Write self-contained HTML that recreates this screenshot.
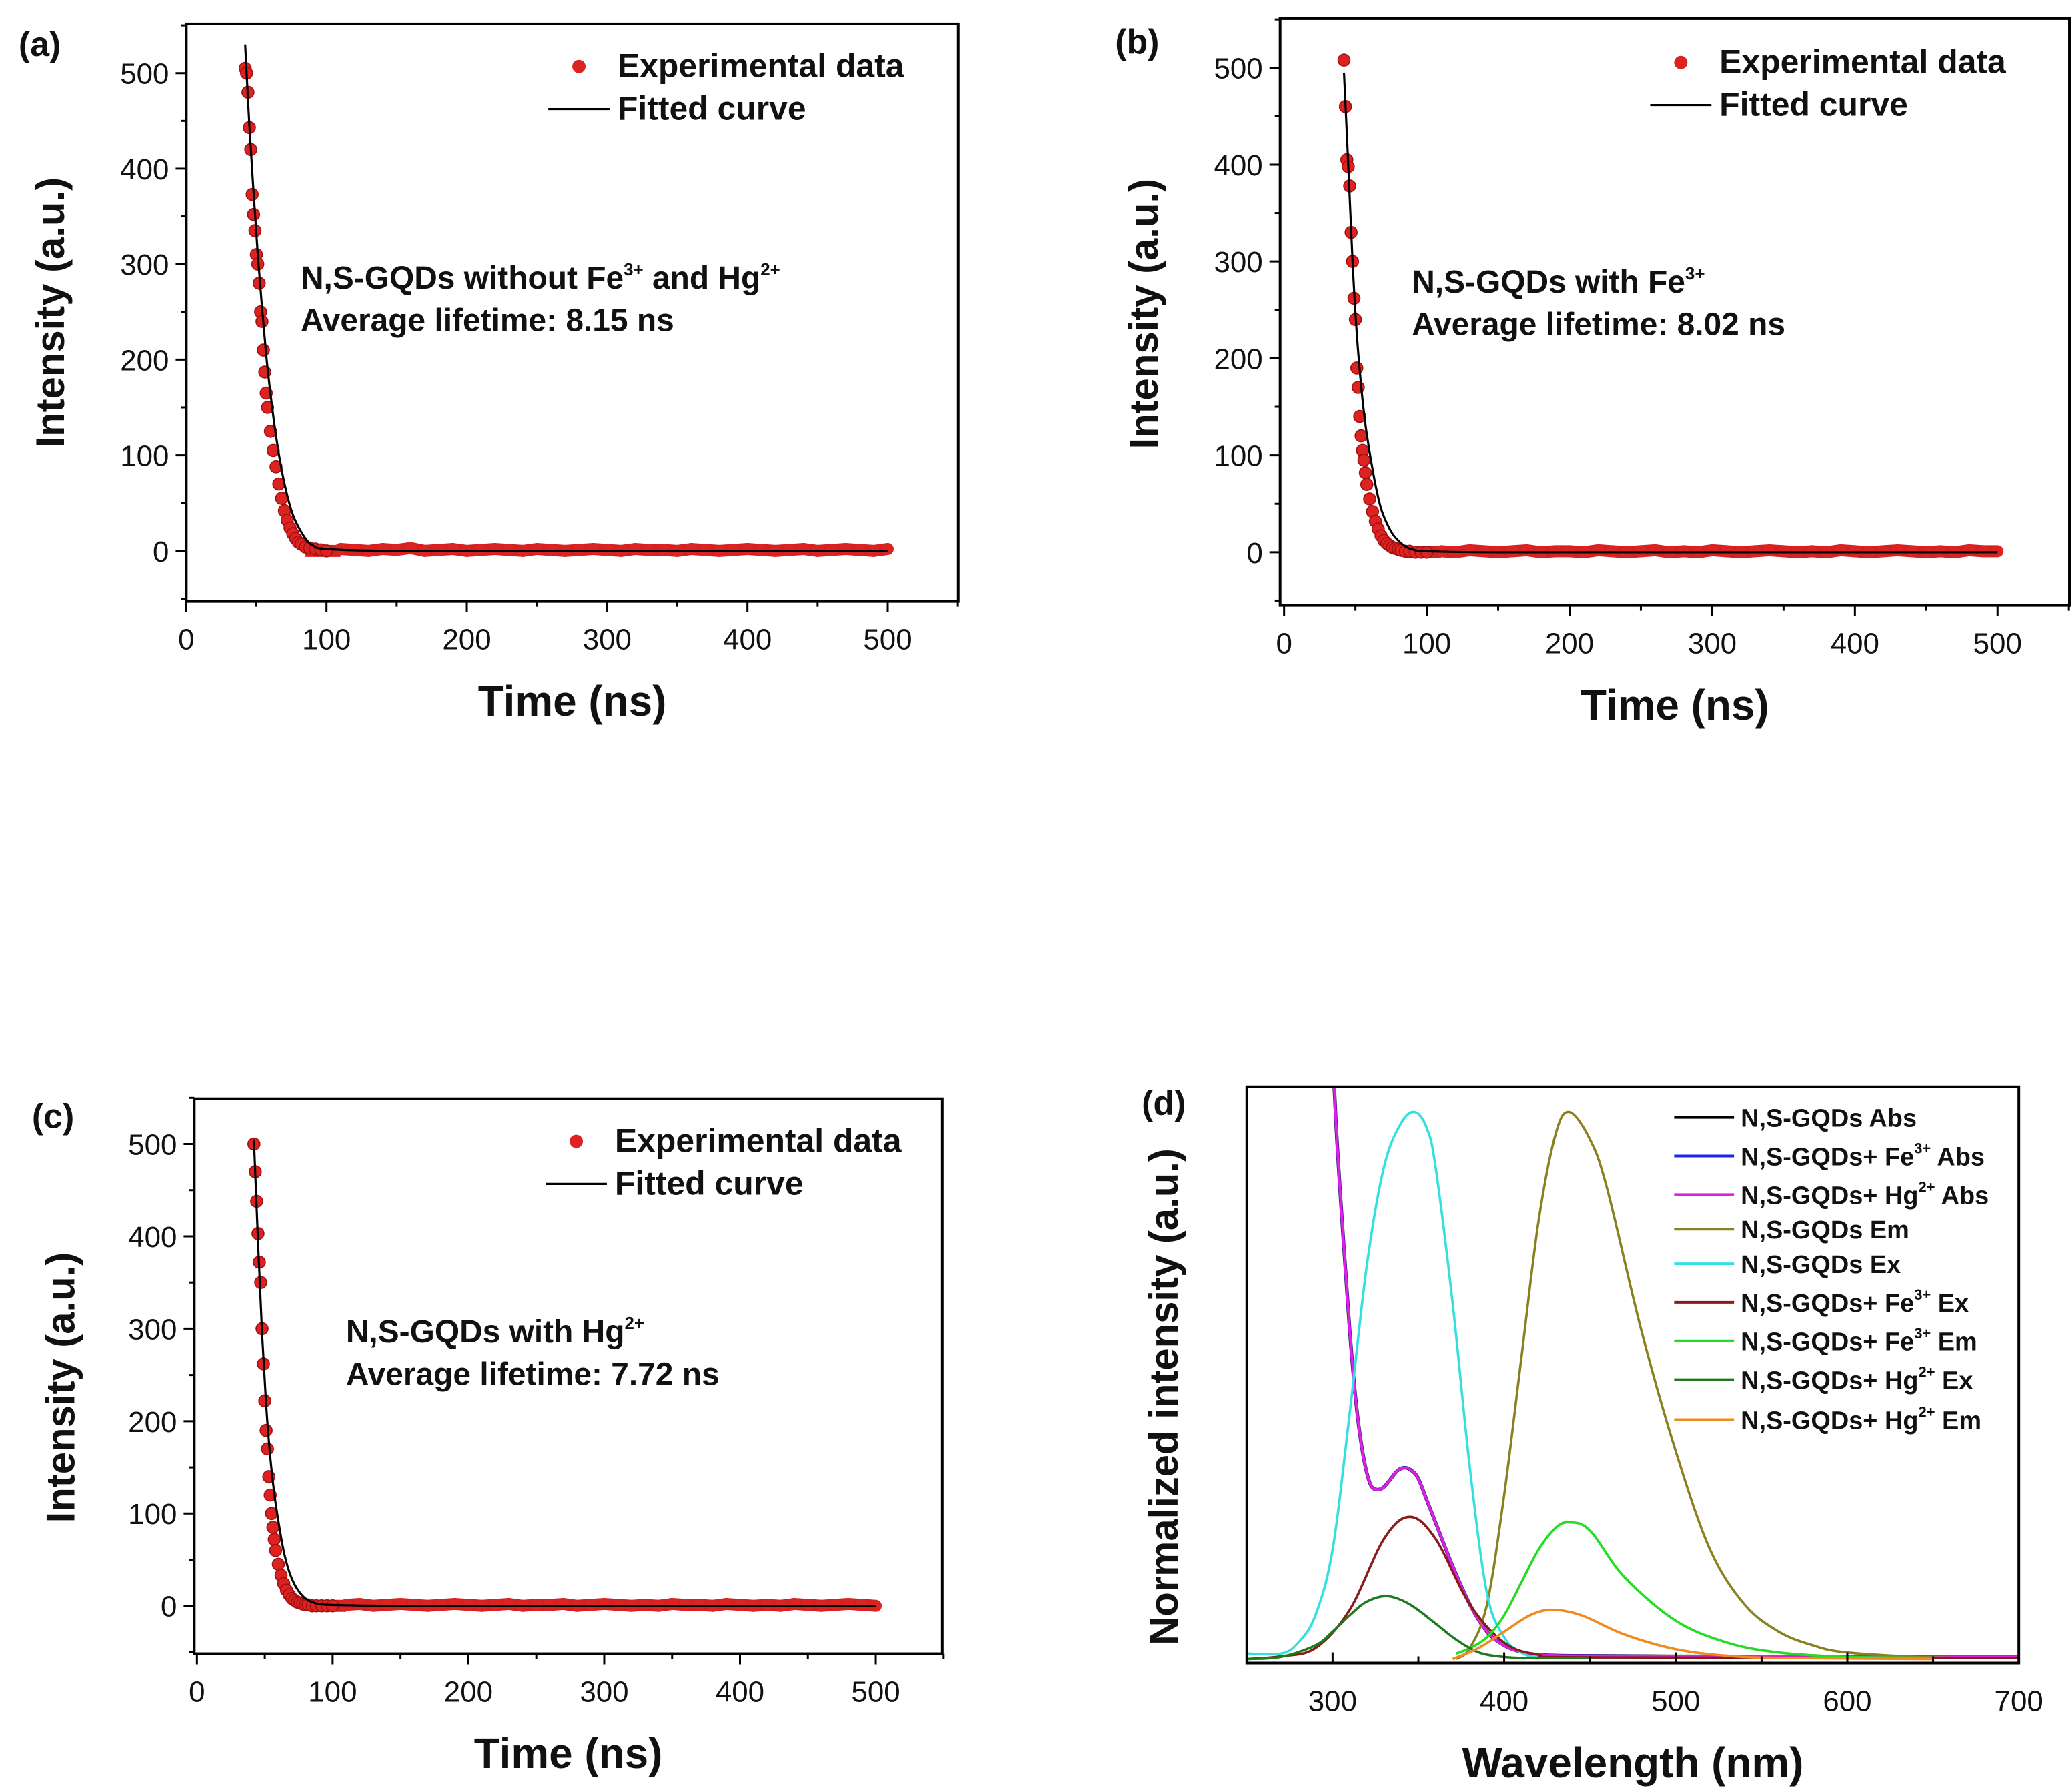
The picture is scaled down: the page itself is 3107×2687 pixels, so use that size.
<!DOCTYPE html>
<html><head><meta charset="utf-8"><style>
html,body{margin:0;padding:0;background:#fff;}
svg{display:block;font-family:"Liberation Sans",Arial,sans-serif;}
</style></head><body>
<svg id="fig" width="3107" height="2687" viewBox="0 0 1557 1347" preserveAspectRatio="none" xmlns="http://www.w3.org/2000/svg"></svg>
<script>
// ---------- decay data (ns, intensity a.u.) ----------
const decayTimes = [42,43,44,45,46,47,48,49,50,51,52,53,54,55,56,57,58,60,62,64,66,68,70,72,74,76,78,80,82,85,88,92,96,100];
const tailTimes = [110,120,130,140,150,160,170,180,190,200,210,220,230,240,250,260,270,280,290,300,310,320,330,340,350,360,370,380,390,400,410,420,430,440,450,460,470,480,490,500];
const aValues = [505,500,480,443,420,373,352,335,310,300,280,250,240,210,187,165,150,125,105,88,70,55,42,32,24,18,13,9,7,4,3,2,1,0];
const bValues = [508,460,405,398,378,330,300,262,240,190,170,140,120,105,95,82,70,55,42,32,24,17,12,9,7,5,4,3,2,1,1,0,0,0];
const cValues = [500,470,438,403,372,350,300,262,222,190,170,140,120,100,85,72,60,45,33,24,17,12,8,6,4,3,2,1,1,0,0,0,0,0];
const aTail = [2,1,0,2,1,3,0,1,2,0,1,2,1,0,2,1,0,1,2,1,0,2,1,1,0,2,1,0,1,2,1,0,1,2,0,1,2,1,0,2];
const bTail = [1,0,2,1,0,1,2,0,1,1,0,2,1,0,1,2,0,1,0,2,1,0,1,2,1,0,1,0,2,1,0,1,2,1,0,1,0,2,1,1];
const cTail = [1,2,0,1,2,1,0,1,2,1,0,1,2,0,1,1,2,0,1,2,1,0,1,0,2,1,1,0,2,1,0,1,0,2,1,0,1,2,1,0];
const fitTimes = [42,45,48,51,54,57,60,64,68,72,76,80,85,90,100,150,300,500];
const aFit = [530,445,375,310,255,205,165,120,85,58,38,25,13,6,2,0,0,0];
const bFit = [495,400,300,225,172,132,103,70,45,30,19,12,6,3,1,0,0,0];
const cFit = [505,395,295,218,162,122,92,59,37,23,14,8,4,2,1,0,0,0];
const decayXTicks = [0,100,200,300,400,500];
const decayYTicks = [0,100,200,300,400,500];

// ---------- spectra data (normalized) ----------
const absW = [298,302,306,310,314,318,322,326,330,334,338,342,346,350,355,360,370,380,390,400,410,420,440,500,600,700];
const absV = [1.25,0.98,0.78,0.6,0.46,0.37,0.32,0.31,0.315,0.33,0.345,0.35,0.345,0.33,0.29,0.25,0.17,0.1,0.05,0.025,0.013,0.008,0.006,0.005,0.004,0.004];
const exW = [250,270,280,290,300,310,320,330,340,348,355,360,370,380,390,400,410,420,450,700];
const exV = [0.01,0.01,0.03,0.08,0.2,0.45,0.72,0.9,0.98,1.0,0.97,0.9,0.65,0.35,0.12,0.04,0.012,0.004,0.002,0.002];
const emW = [372,380,390,400,410,420,430,438,450,460,480,500,520,540,560,580,600,650,700];
const emV = [0.0,0.02,0.1,0.3,0.55,0.8,0.96,1.0,0.95,0.86,0.6,0.38,0.2,0.1,0.05,0.025,0.012,0.003,0.002];
const feExW = [250,270,290,310,330,345,360,380,400,420,450,700];
const feExV = [0.0,0.005,0.02,0.09,0.22,0.26,0.22,0.1,0.03,0.008,0.003,0.002];
const feEmW = [372,380,390,400,410,420,430,438,450,470,500,530,560,600,650];
const feEmV = [0.01,0.02,0.04,0.08,0.14,0.2,0.24,0.25,0.235,0.15,0.07,0.03,0.012,0.004,0.002];
const hgExW = [250,270,290,300,310,320,332,345,360,370,380,390,410,450];
const hgExV = [0.0,0.004,0.025,0.05,0.08,0.105,0.115,0.1,0.065,0.04,0.02,0.008,0.002,0.002];
const hgEmW = [370,385,400,415,428,445,470,500,530,560,650];
const hgEmV = [0.0,0.02,0.05,0.08,0.09,0.08,0.045,0.018,0.006,0.002,0.0];
const specXTicks = [300,400,500,600,700];
const legendLabels = [["N,S-GQDs Abs","",""],["N,S-GQDs+ Fe","3+"," Abs"],["N,S-GQDs+ Hg","2+"," Abs"],["N,S-GQDs Em","",""],["N,S-GQDs Ex","",""],["N,S-GQDs+ Fe","3+"," Ex"],["N,S-GQDs+ Fe","3+"," Em"],["N,S-GQDs+ Hg","2+"," Ex"],["N,S-GQDs+ Hg","2+"," Em"]];

const NS="http://www.w3.org/2000/svg";
const svg=document.getElementById('fig');
function mk(tag,attrs,parent){const e=document.createElementNS(NS,tag);for(const k in attrs)e.setAttribute(k,attrs[k]);(parent||svg).appendChild(e);return e;}
function txt(str,x,y,size,parent,anchor,weight){const t=mk('text',{x:x,y:y,'font-size':size,'text-anchor':anchor||'start','font-weight':weight||'normal',fill:'#111'},parent);t.textContent=str;return t;}
function smooth(pts){let d='M'+pts[0][0]+','+pts[0][1];for(let i=0;i<pts.length-1;i++){const p0=pts[Math.max(0,i-1)],p1=pts[i],p2=pts[i+1],p3=pts[Math.min(pts.length-1,i+2)];const c1=[p1[0]+(p2[0]-p0[0])/6,p1[1]+(p2[1]-p0[1])/6],c2=[p2[0]-(p3[0]-p1[0])/6,p2[1]-(p3[1]-p1[1])/6];d+=' C'+c1[0]+','+c1[1]+' '+c2[0]+','+c2[1]+' '+p2[0]+','+p2[1];}return d;}

function decayPanel(o){
  const g=mk('g',{});
  
  
  const xs=v=>o.x0+(v-0)*(o.x500-o.x0)/500;
  const ys=v=>o.y0+(v-0)*(o.y500-o.y0)/500;
  const fr=mk('rect',{x:o.L,y:o.T,width:o.R-o.L,height:o.B-o.T,fill:'none',stroke:'#000','stroke-width':2},g);
  
  
  for(let v=-50;v<=550;v+=50){const y=ys(v);if(y<o.T-1||y>o.B+1)continue;const major=v%100===0;mk('line',{x1:o.L,x2:o.L-(major?8:4),y1:y,y2:y,stroke:'#000','stroke-width':1.5},g);}
  decayYTicks.forEach(v=>{const t=txt(String(v),o.L-13,ys(v)+8,22,g,'end');});
  for(let v=0;v<=550;v+=50){const x=xs(v);if(x>o.R+1)continue;const major=v%100===0;mk('line',{x1:x,x2:x,y1:o.B,y2:o.B+(major?8:4),stroke:'#000','stroke-width':1.5},g);}
  decayXTicks.forEach(v=>{const t=txt(String(v),xs(v),o.B+36,22,g,'middle');});
  const dg=mk('g',{},g);
  
  
  mk('polyline',{points:tailTimes.map((t,i)=>xs(t)+','+ys(o.tail[i])).join(' '),fill:'none',stroke:'#d42020','stroke-width':9},dg);
  mk('line',{x1:xs(85),x2:xs(tailTimes[0]),y1:ys(0),y2:ys(0),stroke:'#d42020','stroke-width':9},dg);
  o.vals.forEach((v,i)=>{const c=mk('circle',{cx:xs(decayTimes[i]),cy:ys(v),r:4.5,fill:'#dd2222',stroke:'#a01010','stroke-width':0.8},dg);});
  tailTimes.forEach((t,i)=>{const c=mk('circle',{cx:xs(t),cy:ys(o.tail[i]),r:4.5,fill:'#dd2222'},dg);});
  const fit=mk('path',{d:smooth(fitTimes.map((t,i)=>[xs(t),ys(o.fit[i])])),fill:'none',stroke:'#000','stroke-width':1.6},g);
  
  
  const lg=mk('g',{},g);
  
  
  mk('circle',{cx:o.lx+23,cy:o.ly-8,r:5,fill:'#dd2222'},lg);
  txt('Experimental data',o.lx+52,o.ly,25,lg,'start','bold');
  mk('line',{x1:o.lx,x2:o.lx+46,y1:o.ly+24,y2:o.ly+24,stroke:'#000','stroke-width':1.6},lg);
  txt('Fitted curve',o.lx+52,o.ly+32,25,lg,'start','bold');
  const an=mk('text',{x:o.ax,y:o.ay,'font-size':24,'font-weight':'bold',fill:'#111'},g);
  
  
  an.innerHTML=o.ann;
  const av=txt('Average lifetime: '+o.life+' ns',o.ax,o.ay+32,24,g,'start','bold');
  
  
  const pl=txt(o.label,o.plx,o.ply,26,g,'start','bold');
  
  
  const yt=mk('text',{x:0,y:0,'font-size':30,'font-weight':'bold','text-anchor':'middle',transform:'translate('+o.ytx+','+o.yty+') rotate(-90)',fill:'#111'},g);
  yt.textContent='Intensity (a.u.)';
  
  
  const xt=txt('Time (ns)',(o.L+o.R)/2,o.B+86,32,g,'middle','bold');
  
  
}
decayPanel({name:'panel-a',L:140,R:720,T:18,B:452,x0:140,x500:667,y0:414,y500:55,vals:aValues,tail:aTail,fit:aFit,lx:412,ly:58,ax:226,ay:217,ann:'N,S-GQDs without Fe<tspan font-size="13" dy="-10">3+</tspan><tspan dy="10"> and Hg</tspan><tspan font-size="13" dy="-10">2+</tspan>',life:'8.15',label:'(a)',plx:14,ply:42,ytx:48,yty:235});
decayPanel({name:'panel-b',L:962,R:1555,T:14,B:455,x0:965,x500:1501,y0:415,y500:51,vals:bValues,tail:bTail,fit:bFit,lx:1240,ly:55,ax:1061,ay:220,ann:'N,S-GQDs with Fe<tspan font-size="13" dy="-10">3+</tspan>',life:'8.02',label:'(b)',plx:838,ply:40,ytx:870,yty:236});
decayPanel({name:'panel-c',L:146,R:708,T:826,B:1243,x0:148,x500:658,y0:1207,y500:860,vals:cValues,tail:cTail,fit:cFit,lx:410,ly:866,ax:260,ay:1009,ann:'N,S-GQDs with Hg<tspan font-size="13" dy="-10">2+</tspan>',life:'7.72',label:'(c)',plx:24,ply:848,ytx:56,yty:1043});

// ---------- panel d ----------
(function(){
  const g=mk('g',{});
  
  
  const L=937,R=1517,T=817,B=1250;
  const xs=w=>L+(w-250)*(R-L)/450;
  const ys=v=>1247-v*411;
  const clip=mk('clipPath',{id:'cd'},g);mk('rect',{x:L,y:T,width:R-L,height:B-T},clip);
  const series=[[absW,absV,'#000'],[absW,absV,'#2222ee'],[absW,absV,'#e020e0'],[emW,emV,'#8a8020'],[exW,exV,'#33e0e0'],[feExW,feExV,'#8b1a1a'],[feEmW,feEmV,'#22dd22'],[hgExW,hgExV,'#1f7a1f'],[hgEmW,hgEmV,'#f08a20']];
  const names=['abs-line','fe-abs-line','hg-abs-line','em-line','ex-line','fe-ex-line','fe-em-line','hg-ex-line','hg-em-line'];
  series.forEach((s,i)=>{const p=mk('path',{d:smooth(s[0].map((w,j)=>[xs(w),ys(s[1][j])])),fill:'none',stroke:s[2],'stroke-width':i<3?2.6-i*0.3:1.8,'clip-path':'url(#cd)'},g);});
  const fr=mk('rect',{x:L,y:T,width:R-L,height:B-T,fill:'none',stroke:'#000','stroke-width':2},g);
  
  
  for(let w=250;w<=700;w+=50){mk('line',{x1:xs(w),x2:xs(w),y1:B,y2:B-(w%100===0?8:5),stroke:'#000','stroke-width':1.5},g);}
  specXTicks.forEach(w=>{const t=txt(String(w),xs(w),B+36,22,g,'middle');});
  const lg=mk('g',{},g);
  
  
  const rows=[840,869,898,924,950,979,1008,1037,1067];
  legendLabels.forEach((lab,i)=>{
    const e=mk('g',{},lg);
    
    
    mk('line',{x1:1258,x2:1303,y1:rows[i],y2:rows[i],stroke:series[i][2],'stroke-width':2},e);
    const t=mk('text',{x:1308,y:rows[i]+7,'font-size':19,'font-weight':'bold',fill:'#111'},e);
    t.innerHTML=lab[1]?lab[0]+'<tspan font-size="11" dy="-9">'+lab[1]+'</tspan><tspan dy="9">'+lab[2]+'</tspan>':lab[0];
  });
  const pl=txt('(d)',858,838,26,g,'start','bold');
  
  
  const yt=mk('text',{x:0,y:0,'font-size':30,'font-weight':'bold','text-anchor':'middle',transform:'translate(885,1050) rotate(-90)',fill:'#111'},g);
  yt.textContent='Normalized intensity (a.u.)';
  
  
  const xt=txt('Wavelength (nm)',1227,1336,32,g,'middle','bold');
  
  
})();
</script>
</body></html>
